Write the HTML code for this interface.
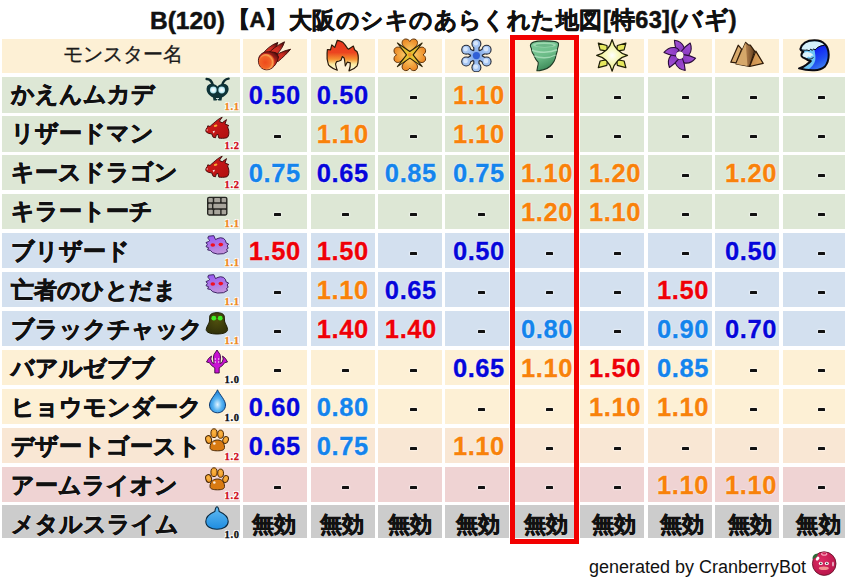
<!DOCTYPE html>
<html lang="ja"><head><meta charset="utf-8"><style>
html,body{margin:0;padding:0;background:#fff;}
body{width:849px;height:583px;position:relative;overflow:hidden;font-family:"Liberation Sans",sans-serif;}
.c{position:absolute;}
.t{position:absolute;white-space:nowrap;line-height:1;}
.nm{font-weight:bold;font-size:23px;color:#111;-webkit-text-stroke:0.7px #111;text-shadow:0 0 2px #fff,0 0 1px #fff;}
.v{font-weight:bold;font-size:25.5px;letter-spacing:0.6px;-webkit-text-stroke:0.35px currentColor;text-align:center;text-shadow:0 0 2px #fff,0 0 1px #fff;}
.mk{font-weight:bold;font-size:22px;letter-spacing:0.6px;text-align:center;color:#111;-webkit-text-stroke:0.6px #111;}
.lv{font-weight:bold;font-size:10.5px;letter-spacing:0.7px;font-family:"Liberation Serif",serif;-webkit-text-stroke:0.35px currentColor;text-shadow:1px 0 0 #fff,-1px 0 0 #fff,0 1px 0 #fff,0 -1px 0 #fff,1px 1px 0 #fff,-1px -1px 0 #fff,1px -1px 0 #fff,-1px 1px 0 #fff;}
.ic{position:absolute;}
svg{display:block;}
</style></head><body>

<div class="t" style="left:150px;top:9px;font-size:24.5px;font-weight:bold;color:#111;-webkit-text-stroke:0.5px #111;">B(120)</div>
<div class="t" style="left:227.5px;top:8.8px;font-size:22px;font-weight:bold;color:#111;-webkit-text-stroke:0.5px #111;">【A】</div>
<div class="t" style="left:289px;top:8.5px;font-size:23px;letter-spacing:0.43px;font-weight:bold;color:#111;-webkit-text-stroke:0.5px #111;">大阪のシキのあらくれた地図</div>
<div class="t" style="left:603px;top:8.5px;font-size:23.5px;letter-spacing:0.27px;font-weight:bold;color:#111;-webkit-text-stroke:0.5px #111;">[特63](バギ)</div>
<div class="c" style="left:2.00px;top:39.00px;width:237.70px;height:33.80px;background:#fdf0d5"></div>
<div class="t" style="left:4px;width:238px;top:44px;text-align:center;font-size:20px;color:#1a1a1a;-webkit-text-stroke:0.3px #1a1a1a">モンスター名</div>
<div class="c" style="left:243.10px;top:39.00px;width:64.03px;height:33.80px;background:#fdf0d5"></div>
<div class="ic" style="left:257.12px;top:38.00px"><svg width="36" height="34" viewBox="0 0 36 34"><defs><radialGradient id="mg" cx="0.4" cy="0.55" r="0.6"><stop offset="0" stop-color="#ee4a1c"/><stop offset="0.62" stop-color="#f26428"/><stop offset="0.8" stop-color="#f8a452"/><stop offset="0.92" stop-color="#e8602a"/><stop offset="1" stop-color="#d03a1c"/></radialGradient>
<linearGradient id="mf" x1="0.1" y1="0.9" x2="0.95" y2="0.05"><stop offset="0" stop-color="#dc3424"/><stop offset="0.55" stop-color="#cc2c22"/><stop offset="0.8" stop-color="#8a1a16"/><stop offset="1" stop-color="#2a0808"/></linearGradient></defs>
<g fill="url(#mf)" stroke="#3a0a08" stroke-width="0.9" stroke-linejoin="round">
<path d="M5 17 C8.5 11.5 14 7 20.8 4.4 C19.8 8.5 18 11.5 15.5 14.5Z"/>
<path d="M9.5 17 C14.5 11.5 20.5 7 27.5 3.8 C26.2 8.5 23.5 12.5 19.5 16.5Z"/>
<path d="M13.5 21 C19 16.5 26 12.8 33.6 11.2 C30 15.5 26 19.5 21 23.5Z"/>
<path d="M1.4 22.5 C1.4 17.5 5 14.5 9 14 C12 13.5 16 13.8 19.5 15 L21.5 19 C20 26 15.5 31.8 9.8 31.8 C4.8 31.8 1.4 28 1.4 22.5Z"/></g>
<circle cx="9.8" cy="23.6" r="7.9" fill="url(#mg)"/></svg></div>
<div class="c" style="left:310.53px;top:39.00px;width:64.03px;height:33.80px;background:#fdf0d5"></div>
<div class="ic" style="left:324.55px;top:38.00px"><svg width="36" height="34" viewBox="0 0 36 34"><defs><linearGradient id="fg" x1="0" y1="0" x2="0" y2="1"><stop offset="0" stop-color="#e8341e"/><stop offset="0.4" stop-color="#ec4420"/><stop offset="0.62" stop-color="#f49030"/><stop offset="0.78" stop-color="#faeaa0"/><stop offset="1" stop-color="#fffbe0"/></linearGradient></defs>
<path d="M12.3 32.2 C6 30 3 27 3.1 25.4 C2 22 1.8 20 2.1 18 C2 15 2.2 13 2.4 11.5 L5.5 11.8 L6.8 6.9 L9.8 9.4 L12.3 2.3 C15 3 17 3.5 17.9 4.4 C20 6.5 21 8 22.2 10 L23.4 11.2 L28.4 8.1 L29.6 11.8 L32.1 13.7 C33 16 33.5 18 33.3 19.9 C33.3 23 33 25.5 32.1 27.9 C30 30.5 27 32 24 32.8 C25 30 25.5 27 25.3 24.8 L22.2 24.2 L20.3 27.9 C20 25 19.8 22 19.1 19.9 L17.3 18.6 L16 22.3 L14.2 23 L11.7 23.6 L10.5 26 C11 28.5 11.5 30.5 12.3 32.2Z" fill="url(#fg)" stroke="#2a1a0a" stroke-width="1.2" stroke-linejoin="round"/></svg></div>
<div class="c" style="left:377.96px;top:39.00px;width:64.03px;height:33.80px;background:#fdf0d5"></div>
<div class="ic" style="left:391.98px;top:38.00px"><svg width="36" height="34" viewBox="0 0 36 34"><defs><radialGradient id="cg" cx="0.5" cy="0.7" r="0.7"><stop offset="0" stop-color="#f8c460"/><stop offset="1" stop-color="#ec8824"/></radialGradient></defs>
<g fill="url(#cg)" stroke="#5a3008" stroke-width="1"><g id="pt"><path d="M17.8 15 L11.2 7.8 C8.9 5 10.4 1 13.8 1 C15.8 1 17 2.2 17.8 3.5 C18.6 2.2 19.8 1 21.8 1 C25.2 1 26.7 5 24.4 7.8Z"/></g>
<use href="#pt" transform="rotate(90 17.8 16.8)"/><use href="#pt" transform="rotate(180 17.8 16.8)"/><use href="#pt" transform="rotate(270 17.8 16.8)"/></g>
<path d="M5.4 5 L17.8 13.5 L30.2 5 L21.1 16.8 L30.2 28.6 L17.8 20.1 L5.4 28.6 L14.5 16.8Z" fill="#e6c232" stroke="#2a2208" stroke-width="1.1" stroke-linejoin="round"/><circle cx="17.8" cy="16.8" r="2" fill="#f09a2c"/></svg></div>
<div class="c" style="left:445.39px;top:39.00px;width:64.03px;height:33.80px;background:#fdf0d5"></div>
<div class="ic" style="left:459.41px;top:38.00px"><svg width="36" height="34" viewBox="0 0 36 34"><g fill="#262a36" stroke="#262a36" stroke-width="6.4" stroke-linecap="round"><line x1="17.4" y1="17.6" x2="17.40" y2="5.80"/><line x1="17.4" y1="17.6" x2="27.62" y2="11.70"/><line x1="17.4" y1="17.6" x2="27.62" y2="23.50"/><line x1="17.4" y1="17.6" x2="17.40" y2="29.40"/><line x1="17.4" y1="17.6" x2="7.18" y2="23.50"/><line x1="17.4" y1="17.6" x2="7.18" y2="11.70"/></g><g fill="#262a36"><circle cx="17.40" cy="5.80" r="5.0"/><circle cx="27.62" cy="11.70" r="5.0"/><circle cx="27.62" cy="23.50" r="5.0"/><circle cx="17.40" cy="29.40" r="5.0"/><circle cx="7.18" cy="23.50" r="5.0"/><circle cx="7.18" cy="11.70" r="5.0"/><circle cx="17.4" cy="17.6" r="6.6"/></g><g fill="#94b8ee" stroke="#94b8ee" stroke-width="4" stroke-linecap="round"><line x1="17.4" y1="17.6" x2="17.40" y2="5.80"/><line x1="17.4" y1="17.6" x2="27.62" y2="11.70"/><line x1="17.4" y1="17.6" x2="27.62" y2="23.50"/><line x1="17.4" y1="17.6" x2="17.40" y2="29.40"/><line x1="17.4" y1="17.6" x2="7.18" y2="23.50"/><line x1="17.4" y1="17.6" x2="7.18" y2="11.70"/></g><g fill="#a4c4f2"><circle cx="17.40" cy="5.80" r="3.9"/><circle cx="27.62" cy="11.70" r="3.9"/><circle cx="27.62" cy="23.50" r="3.9"/><circle cx="17.40" cy="29.40" r="3.9"/><circle cx="7.18" cy="23.50" r="3.9"/><circle cx="7.18" cy="11.70" r="3.9"/></g><circle cx="17.4" cy="17.6" r="5.4" fill="#88aeea"/><g fill="#d6e6fc"><circle cx="16.80" cy="5.20" r="2.3"/><circle cx="27.02" cy="11.10" r="2.3"/><circle cx="27.02" cy="22.90" r="2.3"/><circle cx="16.80" cy="28.80" r="2.3"/><circle cx="6.58" cy="22.90" r="2.3"/><circle cx="6.58" cy="11.10" r="2.3"/></g><circle cx="17.4" cy="17.6" r="3.6" fill="#3060d6"/></svg></div>
<div class="c" style="left:512.82px;top:39.00px;width:64.03px;height:33.80px;background:#fdf0d5"></div>
<div class="ic" style="left:526.84px;top:38.00px"><svg width="36" height="34" viewBox="0 0 36 34"><defs><linearGradient id="tg" x1="0" y1="0" x2="0.4" y2="1"><stop offset="0" stop-color="#80cc9a"/><stop offset="0.6" stop-color="#6cbc88"/><stop offset="1" stop-color="#3e8c5a"/></linearGradient></defs>
<path d="M3.4 7.5 C3.5 3.5 10 2.9 16.7 2.9 C23 2.9 31.5 3 31.5 5.7 C31.8 8 30.5 10 30.3 11.8 C30.5 13.5 29.5 15 29.1 16.8 C28.8 19 28.5 21 27.2 23 C26 25.5 24.5 27 22.9 28.5 C20.5 30.5 18.5 31.3 16.7 31.6 C14 32.3 12 32.8 9.9 32.8 C10 31.5 10.5 30.5 10.5 29.1 C11 27.5 11.5 26 11.2 24.2 C10 22.5 8.5 21.5 8.1 19.9 C7.5 18.5 7 17.5 6.8 16.8 C5.8 15.5 5 14.5 5 13.7 C4.6 12.5 4.4 11.5 4.4 10.6 C3.8 9.5 3.4 8.5 3.4 7.5Z" fill="url(#tg)" stroke="#1e3a26" stroke-width="1.1" stroke-linejoin="round"/>
<ellipse cx="17.5" cy="7" rx="11.5" ry="2.6" fill="#9ed8b0"/><ellipse cx="17.5" cy="7.4" rx="9" ry="1.5" fill="#6cb888"/>
<path d="M5 12 C11 15 23 15 30 11.8" stroke="#a6dcb8" stroke-width="1.6" fill="none"/><path d="M7.5 18 C13 20.5 22 20.5 28.6 17" stroke="#a0d8b2" stroke-width="1.4" fill="none"/></svg></div>
<div class="c" style="left:580.25px;top:39.00px;width:64.03px;height:33.80px;background:#fdf0d5"></div>
<div class="ic" style="left:594.27px;top:38.00px"><svg width="36" height="34" viewBox="0 0 36 34"><defs><radialGradient id="sg2" cx="0.5" cy="0.5" r="0.5"><stop offset="0" stop-color="#ffffff"/><stop offset="0.3" stop-color="#fafad0"/><stop offset="1" stop-color="#eef07a"/></radialGradient></defs>
<g fill="#e6e85e" stroke="#1e1e08" stroke-width="1.2" stroke-linejoin="round"><path d="M4.3 5.1 L12.9 7.5 L13.5 13.1 L6.1 11.8Z"/><path d="M31.9 5.1 L23.3 7.5 L22.7 13.1 L30.1 11.8Z"/><path d="M4.3 29.7 L12.9 27.3 L13.5 21.7 L6.1 23Z"/><path d="M31.9 29.7 L23.3 27.3 L22.7 21.7 L30.1 23Z"/></g>
<path d="M18.1 1.7 Q21.2 14.3 33.5 17.4 Q21.2 20.5 18.1 33.1 Q15 20.5 2.7 17.4 Q15 14.3 18.1 1.7Z" fill="url(#sg2)" stroke="#1e1e08" stroke-width="1.3" stroke-linejoin="round"/></svg></div>
<div class="c" style="left:647.68px;top:39.00px;width:64.03px;height:33.80px;background:#fdf0d5"></div>
<div class="ic" style="left:661.70px;top:38.00px"><svg width="36" height="34" viewBox="0 0 36 34"><defs><linearGradient id="pw" x1="0" y1="0" x2="1" y2="1"><stop offset="0" stop-color="#a452d6"/><stop offset="1" stop-color="#8434bc"/></linearGradient></defs><g fill="url(#pw)" stroke="#2a0c3a" stroke-width="1.1" stroke-linejoin="round">
<g id="bl"><path d="M15.2 14.2 C13.6 10.5 12.6 6.5 12.4 2.2 C16.5 2.8 20.5 5.5 22 9 C22.8 11 22.6 12.8 21.8 14.2 C20 13.6 17.5 13.6 15.2 14.2Z"/></g>
<use href="#bl" transform="rotate(60 17.8 17.3)"/><use href="#bl" transform="rotate(120 17.8 17.3)"/><use href="#bl" transform="rotate(180 17.8 17.3)"/><use href="#bl" transform="rotate(240 17.8 17.3)"/><use href="#bl" transform="rotate(300 17.8 17.3)"/></g>
<circle cx="17.8" cy="17.3" r="3.7" fill="#fdf6e4"/></svg></div>
<div class="c" style="left:715.11px;top:39.00px;width:64.03px;height:33.80px;background:#fdf0d5"></div>
<div class="ic" style="left:729.12px;top:38.00px"><svg width="36" height="34" viewBox="0 0 36 34"><defs><linearGradient id="pg" x1="0" y1="0" x2="1" y2="0"><stop offset="0" stop-color="#a87440"/><stop offset="0.5" stop-color="#b88450"/><stop offset="1" stop-color="#5e3c1c"/></linearGradient><linearGradient id="pg2" x1="0" y1="0" x2="1" y2="0"><stop offset="0" stop-color="#c88c4c"/><stop offset="1" stop-color="#e0aa62"/></linearGradient></defs>
<g stroke="#2e1a08" stroke-width="1.2" stroke-linejoin="round"><path d="M1.8 24.2 L9.2 7.2 L12.6 11.2 L7.1 24.8Z" fill="#d8aa6c"/>
<path d="M7.1 26 L16.6 4.4 L19.4 6.9 L21.3 7.2 L25.6 13.1 L20.6 28.5Z" fill="url(#pg)"/><path d="M7.1 26 L16.6 4.4 L18.5 28Z" fill="#d6a86a" stroke="none"/>
<path d="M20.6 28.5 L26.8 13.1 L34.2 25.4Z" fill="url(#pg2)"/></g></svg></div>
<div class="c" style="left:782.54px;top:39.00px;width:62.76px;height:33.80px;background:#fdf0d5"></div>
<div class="ic" style="left:795.92px;top:38.00px"><svg width="36" height="34" viewBox="0 0 36 34"><defs><linearGradient id="wg" x1="0.3" y1="0" x2="0.8" y2="1"><stop offset="0" stop-color="#0a0cf4"/><stop offset="0.6" stop-color="#2050f0"/><stop offset="1" stop-color="#4a90f0"/></linearGradient></defs>
<path d="M4.3 11.2 C6 5 12 2.3 18.5 2.3 C23 2.3 27 4 29 6.3 C31.5 9 32.7 13 32.7 16.8 C32.7 22 31 26 29 28.5 C26 31 22 32.2 18.5 32.2 C12 32.5 7 31.5 3 30.4 C6 29.5 8.5 28.5 10.4 26.7 C12 25.5 13.5 24.5 14.8 23 C12.5 22.5 10.5 21.5 9.2 20.5 C7.5 20 6 19.5 5.5 18 C5.2 16 6.2 14.5 7.4 13.7 C5.8 13 4.5 12.5 4.3 11.2Z" fill="#6cc4f4"/>
<path d="M18.5 9.5 C22 6 27.5 5.5 30 8.5 C32.3 12 32.7 16 32.5 19.5 C32 24.5 29.5 28.5 25.5 30.5 C21.5 32.3 16 32.5 11.5 32 C15.5 29.5 18.2 26.5 19.2 22.5 C20.2 18 18.3 13 18.5 9.5Z" fill="url(#wg)"/>
<path d="M5.2 11 C7 5.5 12 3.3 18.5 3.3 C23 3.3 26.5 4.5 28.5 7 C25 7.2 22.5 8.2 20.5 10.2 L19 11.6 L17.6 10.4 L16.3 12 L14.7 10.8 L13.2 12.5 L11 11.8 C8.8 12.2 6.6 12 5.2 11Z" fill="#d6f0fb"/>
<path d="M6 17.5 C6.5 15 9.5 13.8 12.5 14.2 C15 14.6 16.8 15.8 17.5 17.6 L15.5 17.8 L14.2 19.4 L12.6 18.4 L11 19.8 C8.6 20 6.5 19.3 6 17.5Z" fill="#dcf2fc"/><path d="M10.5 20.5 C13 21.5 15 21.5 17.5 19.5" stroke="#0a0a12" stroke-width="0.9" fill="none"/>
<path d="M5.2 11.5 C7 12.3 9 12.4 11 12 L13.2 12.8 L14.7 11.2 L16.3 12.4 L17.6 10.9 L19 12 L20.5 10.5 C22.5 8.6 25 7.6 28.5 7.3" stroke="#0a0a12" stroke-width="1" fill="none" stroke-linejoin="round"/>
<path d="M4.3 11.2 C6 5 12 2.3 18.5 2.3 C23 2.3 27 4 29 6.3 C31.5 9 32.7 13 32.7 16.8 C32.7 22 31 26 29 28.5 C26 31 22 32.2 18.5 32.2 C12 32.5 7 31.5 3 30.4 C6 29.5 8.5 28.5 10.4 26.7 C12 25.5 13.5 24.5 14.8 23 C12.5 22.5 10.5 21.5 9.2 20.5 C7.5 20 6 19.5 5.5 18 C5.2 16 6.2 14.5 7.4 13.7 C5.8 13 4.5 12.5 4.3 11.2Z" fill="none" stroke="#0a0a12" stroke-width="2" stroke-linejoin="round"/></svg></div>
<div class="c" style="left:2.00px;top:77.46px;width:237.70px;height:35.20px;background:#dde7d5"></div>
<div class="t nm" style="left:11px;top:83.46px">かえんムカデ</div>
<div class="ic" style="left:204px;top:76.96px"><svg width="26" height="26" viewBox="0 0 26 26"><defs><radialGradient id="eg0" cx="0.5" cy="0.5" r="0.5"><stop offset="0" stop-color="#ffffff"/><stop offset="0.6" stop-color="#d8f4fa"/><stop offset="1" stop-color="#9ad8e4"/></radialGradient></defs>
<g stroke="#0c2a2e" stroke-linecap="round" fill="none" stroke-width="2.4"><path d="M9 8.5 C8 4.5 5.5 2 2.6 2"/><path d="M18 8.5 C19 4.5 21.5 1.8 24.6 1.6"/></g>
<path d="M13.5 9.5 C10 5.5 3 5.8 2.6 11.5 C2.3 15.5 5 18.5 9 20.5 L9.5 23.6 L12.6 23.6 L13.5 22 L14.4 23.6 L17.5 23.6 L18 20.5 C22 18.5 24.8 15.5 24.6 11.5 C24.2 5.8 17 5.5 13.5 9.5Z" fill="#0e3338"/>
<circle cx="9.3" cy="13" r="3.4" fill="url(#eg0)"/><circle cx="17.7" cy="13" r="3.4" fill="url(#eg0)"/><path d="M12 21.5 L15 21.5" stroke="#c8d8d8" stroke-width="1"/></svg></div>
<div class="t lv" style="left:224.6px;top:102.21px;color:#ee8a1e">1.1</div>
<div class="c" style="left:243.10px;top:77.46px;width:64.03px;height:35.20px;background:#dde7d5"></div>
<div class="t v" style="left:234.78px;width:80px;top:83.06px;color:#0606da">0.50</div>
<div class="c" style="left:310.53px;top:77.46px;width:64.03px;height:35.20px;background:#dde7d5"></div>
<div class="t v" style="left:302.82px;width:80px;top:83.06px;color:#0606da">0.50</div>
<div class="c" style="left:377.96px;top:77.46px;width:64.03px;height:35.20px;background:#dde7d5"></div>
<div class="c" style="left:409.68px;top:96.06px;width:7px;height:2.7px;background:#111;border-radius:0.6px;box-shadow:0 0 1.5px 0.8px rgba(255,255,255,0.55)"></div>
<div class="c" style="left:445.39px;top:77.46px;width:64.03px;height:35.20px;background:#dde7d5"></div>
<div class="t v" style="left:438.90px;width:80px;top:83.06px;color:#f8820a">1.10</div>
<div class="c" style="left:512.82px;top:77.46px;width:64.03px;height:35.20px;background:#dde7d5"></div>
<div class="c" style="left:545.76px;top:96.06px;width:7px;height:2.7px;background:#111;border-radius:0.6px;box-shadow:0 0 1.5px 0.8px rgba(255,255,255,0.55)"></div>
<div class="c" style="left:580.25px;top:77.46px;width:64.03px;height:35.20px;background:#dde7d5"></div>
<div class="c" style="left:613.80px;top:96.06px;width:7px;height:2.7px;background:#111;border-radius:0.6px;box-shadow:0 0 1.5px 0.8px rgba(255,255,255,0.55)"></div>
<div class="c" style="left:647.68px;top:77.46px;width:64.03px;height:35.20px;background:#dde7d5"></div>
<div class="c" style="left:681.84px;top:96.06px;width:7px;height:2.7px;background:#111;border-radius:0.6px;box-shadow:0 0 1.5px 0.8px rgba(255,255,255,0.55)"></div>
<div class="c" style="left:715.11px;top:77.46px;width:64.03px;height:35.20px;background:#dde7d5"></div>
<div class="c" style="left:749.88px;top:96.06px;width:7px;height:2.7px;background:#111;border-radius:0.6px;box-shadow:0 0 1.5px 0.8px rgba(255,255,255,0.55)"></div>
<div class="c" style="left:782.54px;top:77.46px;width:62.76px;height:35.20px;background:#dde7d5"></div>
<div class="c" style="left:817.92px;top:96.06px;width:7px;height:2.7px;background:#111;border-radius:0.6px;box-shadow:0 0 1.5px 0.8px rgba(255,255,255,0.55)"></div>
<div class="c" style="left:2.00px;top:116.37px;width:237.70px;height:35.20px;background:#dde7d5"></div>
<div class="t nm" style="left:11px;top:122.47px">リザードマン</div>
<div class="ic" style="left:204px;top:115.87px"><svg width="26" height="26" viewBox="0 0 26 26"><defs><linearGradient id="drg1" x1="0" y1="0" x2="1" y2="1"><stop offset="0" stop-color="#d41c1c"/><stop offset="1" stop-color="#b01010"/></linearGradient></defs><path d="M3.3 11.6 L3.8 9.8 L6 10.5 C7 9.5 8 8.5 9.1 7.7 C12 5 15 2.5 18.2 1.2 L15.3 5.3 L18.2 6.8 L22.5 3.6 L21 8 L24.9 9.6 L23.5 10.8 C24.5 13 25 15 24.9 17.3 C24.8 19.5 24 21 23 21.7 C20 22.5 17 22.5 14.8 22.1 L13.9 18.3 L12.2 19.2 L11.5 21.8 L9.1 21.2 L7.6 17.8 C5.5 17.8 3.5 17.3 1.8 15.4 C1.8 13.5 2.3 12.3 3.3 11.6Z" fill="url(#drg1)" stroke="#3a0606" stroke-width="0.9" stroke-linejoin="round"/>
<ellipse cx="11.6" cy="9.8" rx="1.8" ry="1.1" fill="#f8a830" transform="rotate(-15 11.6 9.8)"/><path d="M8.6 15.2 L11 14.8 L9.8 17.5Z" fill="#f6e0e0"/><circle cx="3.2" cy="14" r="0.8" fill="#f0b0b0"/></svg></div>
<div class="t lv" style="left:224.6px;top:141.12px;color:#d0101c">1.2</div>
<div class="c" style="left:243.10px;top:116.37px;width:64.03px;height:35.20px;background:#dde7d5"></div>
<div class="c" style="left:273.60px;top:135.07px;width:7px;height:2.7px;background:#111;border-radius:0.6px;box-shadow:0 0 1.5px 0.8px rgba(255,255,255,0.55)"></div>
<div class="c" style="left:310.53px;top:116.37px;width:64.03px;height:35.20px;background:#dde7d5"></div>
<div class="t v" style="left:302.82px;width:80px;top:122.07px;color:#f8820a">1.10</div>
<div class="c" style="left:377.96px;top:116.37px;width:64.03px;height:35.20px;background:#dde7d5"></div>
<div class="c" style="left:409.68px;top:135.07px;width:7px;height:2.7px;background:#111;border-radius:0.6px;box-shadow:0 0 1.5px 0.8px rgba(255,255,255,0.55)"></div>
<div class="c" style="left:445.39px;top:116.37px;width:64.03px;height:35.20px;background:#dde7d5"></div>
<div class="t v" style="left:438.90px;width:80px;top:122.07px;color:#f8820a">1.10</div>
<div class="c" style="left:512.82px;top:116.37px;width:64.03px;height:35.20px;background:#dde7d5"></div>
<div class="c" style="left:545.76px;top:135.07px;width:7px;height:2.7px;background:#111;border-radius:0.6px;box-shadow:0 0 1.5px 0.8px rgba(255,255,255,0.55)"></div>
<div class="c" style="left:580.25px;top:116.37px;width:64.03px;height:35.20px;background:#dde7d5"></div>
<div class="c" style="left:613.80px;top:135.07px;width:7px;height:2.7px;background:#111;border-radius:0.6px;box-shadow:0 0 1.5px 0.8px rgba(255,255,255,0.55)"></div>
<div class="c" style="left:647.68px;top:116.37px;width:64.03px;height:35.20px;background:#dde7d5"></div>
<div class="c" style="left:681.84px;top:135.07px;width:7px;height:2.7px;background:#111;border-radius:0.6px;box-shadow:0 0 1.5px 0.8px rgba(255,255,255,0.55)"></div>
<div class="c" style="left:715.11px;top:116.37px;width:64.03px;height:35.20px;background:#dde7d5"></div>
<div class="c" style="left:749.88px;top:135.07px;width:7px;height:2.7px;background:#111;border-radius:0.6px;box-shadow:0 0 1.5px 0.8px rgba(255,255,255,0.55)"></div>
<div class="c" style="left:782.54px;top:116.37px;width:62.76px;height:35.20px;background:#dde7d5"></div>
<div class="c" style="left:817.92px;top:135.07px;width:7px;height:2.7px;background:#111;border-radius:0.6px;box-shadow:0 0 1.5px 0.8px rgba(255,255,255,0.55)"></div>
<div class="c" style="left:2.00px;top:155.28px;width:237.70px;height:35.20px;background:#dde7d5"></div>
<div class="t nm" style="left:11px;top:161.48px">キースドラゴン</div>
<div class="ic" style="left:204px;top:154.78px"><svg width="26" height="26" viewBox="0 0 26 26"><defs><linearGradient id="drg2" x1="0" y1="0" x2="1" y2="1"><stop offset="0" stop-color="#d41c1c"/><stop offset="1" stop-color="#b01010"/></linearGradient></defs><path d="M3.3 11.6 L3.8 9.8 L6 10.5 C7 9.5 8 8.5 9.1 7.7 C12 5 15 2.5 18.2 1.2 L15.3 5.3 L18.2 6.8 L22.5 3.6 L21 8 L24.9 9.6 L23.5 10.8 C24.5 13 25 15 24.9 17.3 C24.8 19.5 24 21 23 21.7 C20 22.5 17 22.5 14.8 22.1 L13.9 18.3 L12.2 19.2 L11.5 21.8 L9.1 21.2 L7.6 17.8 C5.5 17.8 3.5 17.3 1.8 15.4 C1.8 13.5 2.3 12.3 3.3 11.6Z" fill="url(#drg2)" stroke="#3a0606" stroke-width="0.9" stroke-linejoin="round"/>
<ellipse cx="11.6" cy="9.8" rx="1.8" ry="1.1" fill="#f8a830" transform="rotate(-15 11.6 9.8)"/><path d="M8.6 15.2 L11 14.8 L9.8 17.5Z" fill="#f6e0e0"/><circle cx="3.2" cy="14" r="0.8" fill="#f0b0b0"/></svg></div>
<div class="t lv" style="left:224.6px;top:180.03px;color:#d0101c">1.2</div>
<div class="c" style="left:243.10px;top:155.28px;width:64.03px;height:35.20px;background:#dde7d5"></div>
<div class="t v" style="left:234.78px;width:80px;top:161.08px;color:#1484ec">0.75</div>
<div class="c" style="left:310.53px;top:155.28px;width:64.03px;height:35.20px;background:#dde7d5"></div>
<div class="t v" style="left:302.82px;width:80px;top:161.08px;color:#0606da">0.65</div>
<div class="c" style="left:377.96px;top:155.28px;width:64.03px;height:35.20px;background:#dde7d5"></div>
<div class="t v" style="left:370.86px;width:80px;top:161.08px;color:#1484ec">0.85</div>
<div class="c" style="left:445.39px;top:155.28px;width:64.03px;height:35.20px;background:#dde7d5"></div>
<div class="t v" style="left:438.90px;width:80px;top:161.08px;color:#1484ec">0.75</div>
<div class="c" style="left:512.82px;top:155.28px;width:64.03px;height:35.20px;background:#dde7d5"></div>
<div class="t v" style="left:506.94px;width:80px;top:161.08px;color:#f8820a">1.10</div>
<div class="c" style="left:580.25px;top:155.28px;width:64.03px;height:35.20px;background:#dde7d5"></div>
<div class="t v" style="left:574.98px;width:80px;top:161.08px;color:#f8820a">1.20</div>
<div class="c" style="left:647.68px;top:155.28px;width:64.03px;height:35.20px;background:#dde7d5"></div>
<div class="c" style="left:681.84px;top:174.08px;width:7px;height:2.7px;background:#111;border-radius:0.6px;box-shadow:0 0 1.5px 0.8px rgba(255,255,255,0.55)"></div>
<div class="c" style="left:715.11px;top:155.28px;width:64.03px;height:35.20px;background:#dde7d5"></div>
<div class="t v" style="left:711.06px;width:80px;top:161.08px;color:#f8820a">1.20</div>
<div class="c" style="left:782.54px;top:155.28px;width:62.76px;height:35.20px;background:#dde7d5"></div>
<div class="c" style="left:817.92px;top:174.08px;width:7px;height:2.7px;background:#111;border-radius:0.6px;box-shadow:0 0 1.5px 0.8px rgba(255,255,255,0.55)"></div>
<div class="c" style="left:2.00px;top:194.19px;width:237.70px;height:35.20px;background:#dde7d5"></div>
<div class="t nm" style="left:11px;top:200.49px">キラートーチ</div>
<div class="ic" style="left:204px;top:193.69px"><svg width="26" height="26" viewBox="0 0 26 26"><g transform="translate(0 -0.4) scale(1 0.95)"><rect x="3" y="3.2" width="20.5" height="20" rx="2.2" fill="#262622"/>
<g fill="#a8a59c"><rect x="4.4" y="4.6" width="4.4" height="4.6" rx="0.9"/><rect x="10.2" y="4.6" width="6" height="4.6" rx="0.9"/><rect x="17.6" y="4.6" width="4.5" height="4.6" rx="0.9"/>
<rect x="4.4" y="10.8" width="3.6" height="4.6" rx="0.9"/><rect x="9.4" y="10.8" width="12.7" height="4.6" rx="0.9"/>
<rect x="4.4" y="17" width="4.4" height="4.8" rx="0.9"/><rect x="10.2" y="17" width="6" height="4.8" rx="0.9"/><rect x="17.6" y="17" width="4.5" height="4.8" rx="0.9"/></g></g></svg></div>
<div class="t lv" style="left:224.6px;top:218.94px;color:#ee8a1e">1.1</div>
<div class="c" style="left:243.10px;top:194.19px;width:64.03px;height:35.20px;background:#dde7d5"></div>
<div class="c" style="left:273.60px;top:213.09px;width:7px;height:2.7px;background:#111;border-radius:0.6px;box-shadow:0 0 1.5px 0.8px rgba(255,255,255,0.55)"></div>
<div class="c" style="left:310.53px;top:194.19px;width:64.03px;height:35.20px;background:#dde7d5"></div>
<div class="c" style="left:341.64px;top:213.09px;width:7px;height:2.7px;background:#111;border-radius:0.6px;box-shadow:0 0 1.5px 0.8px rgba(255,255,255,0.55)"></div>
<div class="c" style="left:377.96px;top:194.19px;width:64.03px;height:35.20px;background:#dde7d5"></div>
<div class="c" style="left:409.68px;top:213.09px;width:7px;height:2.7px;background:#111;border-radius:0.6px;box-shadow:0 0 1.5px 0.8px rgba(255,255,255,0.55)"></div>
<div class="c" style="left:445.39px;top:194.19px;width:64.03px;height:35.20px;background:#dde7d5"></div>
<div class="c" style="left:477.72px;top:213.09px;width:7px;height:2.7px;background:#111;border-radius:0.6px;box-shadow:0 0 1.5px 0.8px rgba(255,255,255,0.55)"></div>
<div class="c" style="left:512.82px;top:194.19px;width:64.03px;height:35.20px;background:#dde7d5"></div>
<div class="t v" style="left:506.94px;width:80px;top:200.09px;color:#f8820a">1.20</div>
<div class="c" style="left:580.25px;top:194.19px;width:64.03px;height:35.20px;background:#dde7d5"></div>
<div class="t v" style="left:574.98px;width:80px;top:200.09px;color:#f8820a">1.10</div>
<div class="c" style="left:647.68px;top:194.19px;width:64.03px;height:35.20px;background:#dde7d5"></div>
<div class="c" style="left:681.84px;top:213.09px;width:7px;height:2.7px;background:#111;border-radius:0.6px;box-shadow:0 0 1.5px 0.8px rgba(255,255,255,0.55)"></div>
<div class="c" style="left:715.11px;top:194.19px;width:64.03px;height:35.20px;background:#dde7d5"></div>
<div class="c" style="left:749.88px;top:213.09px;width:7px;height:2.7px;background:#111;border-radius:0.6px;box-shadow:0 0 1.5px 0.8px rgba(255,255,255,0.55)"></div>
<div class="c" style="left:782.54px;top:194.19px;width:62.76px;height:35.20px;background:#dde7d5"></div>
<div class="c" style="left:817.92px;top:213.09px;width:7px;height:2.7px;background:#111;border-radius:0.6px;box-shadow:0 0 1.5px 0.8px rgba(255,255,255,0.55)"></div>
<div class="c" style="left:2.00px;top:233.10px;width:237.70px;height:35.20px;background:#d3e0ef"></div>
<div class="t nm" style="left:11px;top:239.50px">ブリザード</div>
<div class="ic" style="left:204px;top:232.60px"><svg width="26" height="26" viewBox="0 0 26 26"><defs><linearGradient id="gg4" x1="0" y1="0" x2="0.3" y2="1"><stop offset="0" stop-color="#9454f4"/><stop offset="1" stop-color="#c090dc"/></linearGradient></defs>
<path transform="translate(0 0.2) scale(1 0.94)" d="M4.5 3.2 L9.8 2.6 L11.5 6.8 L14 5.5 L16.5 4.8 L19.5 5.5 L21.5 7.8 L22 10.2 L24.6 11.5 L23.2 13.6 L24.2 16 L22.6 17.2 L23.5 19.5 L19.5 21.8 L13.5 22.2 L8.8 20.8 L6.3 18.3 L3.6 17.8 L4.6 15.5 L2 14.3 L3.4 12 L2 10 L4.6 8.8 L5.8 7.6 L3.8 5.5Z" fill="url(#gg4)" stroke="#3a2060" stroke-width="1" stroke-linejoin="round"/>
<ellipse cx="8.8" cy="12" rx="2.3" ry="1.7" fill="#f01020"/><ellipse cx="16.8" cy="11.6" rx="2.3" ry="1.8" fill="#f01020"/></svg></div>
<div class="t lv" style="left:224.6px;top:257.85px;color:#ee8a1e">1.1</div>
<div class="c" style="left:243.10px;top:233.10px;width:64.03px;height:35.20px;background:#d3e0ef"></div>
<div class="t v" style="left:234.78px;width:80px;top:239.10px;color:#ee0008">1.50</div>
<div class="c" style="left:310.53px;top:233.10px;width:64.03px;height:35.20px;background:#d3e0ef"></div>
<div class="t v" style="left:302.82px;width:80px;top:239.10px;color:#ee0008">1.50</div>
<div class="c" style="left:377.96px;top:233.10px;width:64.03px;height:35.20px;background:#d3e0ef"></div>
<div class="c" style="left:409.68px;top:252.10px;width:7px;height:2.7px;background:#111;border-radius:0.6px;box-shadow:0 0 1.5px 0.8px rgba(255,255,255,0.55)"></div>
<div class="c" style="left:445.39px;top:233.10px;width:64.03px;height:35.20px;background:#d3e0ef"></div>
<div class="t v" style="left:438.90px;width:80px;top:239.10px;color:#0606da">0.50</div>
<div class="c" style="left:512.82px;top:233.10px;width:64.03px;height:35.20px;background:#d3e0ef"></div>
<div class="c" style="left:545.76px;top:252.10px;width:7px;height:2.7px;background:#111;border-radius:0.6px;box-shadow:0 0 1.5px 0.8px rgba(255,255,255,0.55)"></div>
<div class="c" style="left:580.25px;top:233.10px;width:64.03px;height:35.20px;background:#d3e0ef"></div>
<div class="c" style="left:613.80px;top:252.10px;width:7px;height:2.7px;background:#111;border-radius:0.6px;box-shadow:0 0 1.5px 0.8px rgba(255,255,255,0.55)"></div>
<div class="c" style="left:647.68px;top:233.10px;width:64.03px;height:35.20px;background:#d3e0ef"></div>
<div class="c" style="left:681.84px;top:252.10px;width:7px;height:2.7px;background:#111;border-radius:0.6px;box-shadow:0 0 1.5px 0.8px rgba(255,255,255,0.55)"></div>
<div class="c" style="left:715.11px;top:233.10px;width:64.03px;height:35.20px;background:#d3e0ef"></div>
<div class="t v" style="left:711.06px;width:80px;top:239.10px;color:#0606da">0.50</div>
<div class="c" style="left:782.54px;top:233.10px;width:62.76px;height:35.20px;background:#d3e0ef"></div>
<div class="c" style="left:817.92px;top:252.10px;width:7px;height:2.7px;background:#111;border-radius:0.6px;box-shadow:0 0 1.5px 0.8px rgba(255,255,255,0.55)"></div>
<div class="c" style="left:2.00px;top:272.01px;width:237.70px;height:35.20px;background:#d3e0ef"></div>
<div class="t nm" style="left:11px;top:278.51px">亡者のひとだま</div>
<div class="ic" style="left:204px;top:271.51px"><svg width="26" height="26" viewBox="0 0 26 26"><defs><linearGradient id="gg5" x1="0" y1="0" x2="0.3" y2="1"><stop offset="0" stop-color="#9454f4"/><stop offset="1" stop-color="#c090dc"/></linearGradient></defs>
<path transform="translate(0 0.2) scale(1 0.94)" d="M4.5 3.2 L9.8 2.6 L11.5 6.8 L14 5.5 L16.5 4.8 L19.5 5.5 L21.5 7.8 L22 10.2 L24.6 11.5 L23.2 13.6 L24.2 16 L22.6 17.2 L23.5 19.5 L19.5 21.8 L13.5 22.2 L8.8 20.8 L6.3 18.3 L3.6 17.8 L4.6 15.5 L2 14.3 L3.4 12 L2 10 L4.6 8.8 L5.8 7.6 L3.8 5.5Z" fill="url(#gg5)" stroke="#3a2060" stroke-width="1" stroke-linejoin="round"/>
<ellipse cx="8.8" cy="12" rx="2.3" ry="1.7" fill="#f01020"/><ellipse cx="16.8" cy="11.6" rx="2.3" ry="1.8" fill="#f01020"/></svg></div>
<div class="t lv" style="left:224.6px;top:296.76px;color:#ee8a1e">1.1</div>
<div class="c" style="left:243.10px;top:272.01px;width:64.03px;height:35.20px;background:#d3e0ef"></div>
<div class="c" style="left:273.60px;top:291.11px;width:7px;height:2.7px;background:#111;border-radius:0.6px;box-shadow:0 0 1.5px 0.8px rgba(255,255,255,0.55)"></div>
<div class="c" style="left:310.53px;top:272.01px;width:64.03px;height:35.20px;background:#d3e0ef"></div>
<div class="t v" style="left:302.82px;width:80px;top:278.11px;color:#f8820a">1.10</div>
<div class="c" style="left:377.96px;top:272.01px;width:64.03px;height:35.20px;background:#d3e0ef"></div>
<div class="t v" style="left:370.86px;width:80px;top:278.11px;color:#0606da">0.65</div>
<div class="c" style="left:445.39px;top:272.01px;width:64.03px;height:35.20px;background:#d3e0ef"></div>
<div class="c" style="left:477.72px;top:291.11px;width:7px;height:2.7px;background:#111;border-radius:0.6px;box-shadow:0 0 1.5px 0.8px rgba(255,255,255,0.55)"></div>
<div class="c" style="left:512.82px;top:272.01px;width:64.03px;height:35.20px;background:#d3e0ef"></div>
<div class="c" style="left:545.76px;top:291.11px;width:7px;height:2.7px;background:#111;border-radius:0.6px;box-shadow:0 0 1.5px 0.8px rgba(255,255,255,0.55)"></div>
<div class="c" style="left:580.25px;top:272.01px;width:64.03px;height:35.20px;background:#d3e0ef"></div>
<div class="c" style="left:613.80px;top:291.11px;width:7px;height:2.7px;background:#111;border-radius:0.6px;box-shadow:0 0 1.5px 0.8px rgba(255,255,255,0.55)"></div>
<div class="c" style="left:647.68px;top:272.01px;width:64.03px;height:35.20px;background:#d3e0ef"></div>
<div class="t v" style="left:643.02px;width:80px;top:278.11px;color:#ee0008">1.50</div>
<div class="c" style="left:715.11px;top:272.01px;width:64.03px;height:35.20px;background:#d3e0ef"></div>
<div class="c" style="left:749.88px;top:291.11px;width:7px;height:2.7px;background:#111;border-radius:0.6px;box-shadow:0 0 1.5px 0.8px rgba(255,255,255,0.55)"></div>
<div class="c" style="left:782.54px;top:272.01px;width:62.76px;height:35.20px;background:#d3e0ef"></div>
<div class="c" style="left:817.92px;top:291.11px;width:7px;height:2.7px;background:#111;border-radius:0.6px;box-shadow:0 0 1.5px 0.8px rgba(255,255,255,0.55)"></div>
<div class="c" style="left:2.00px;top:310.92px;width:237.70px;height:35.20px;background:#d3e0ef"></div>
<div class="t nm" style="left:11px;top:317.52px">ブラックチャック</div>
<div class="ic" style="left:204px;top:310.42px"><svg width="26" height="26" viewBox="0 0 26 26"><defs><radialGradient id="jg6" cx="0.5" cy="0.35" r="0.6"><stop offset="0" stop-color="#50500e"/><stop offset="1" stop-color="#34340a"/></radialGradient></defs><path d="M5.8 6 C6.5 1.5 19.5 1.5 20.2 6 L20.5 11 C21 14 23.3 16 23.6 19.5 C23.6 22.5 19 24 13 24 C7 24 2 22.5 2.2 19.5 C2.6 16 5.2 14 5.5 11Z" fill="url(#jg6)" stroke="#1e1e04" stroke-width="1"/>
<circle cx="9.8" cy="8.2" r="2.4" fill="#40ec24"/><circle cx="16.2" cy="8.2" r="2.4" fill="#40ec24"/></svg></div>
<div class="t lv" style="left:224.6px;top:335.67px;color:#ee8a1e">1.1</div>
<div class="c" style="left:243.10px;top:310.92px;width:64.03px;height:35.20px;background:#d3e0ef"></div>
<div class="c" style="left:273.60px;top:330.12px;width:7px;height:2.7px;background:#111;border-radius:0.6px;box-shadow:0 0 1.5px 0.8px rgba(255,255,255,0.55)"></div>
<div class="c" style="left:310.53px;top:310.92px;width:64.03px;height:35.20px;background:#d3e0ef"></div>
<div class="t v" style="left:302.82px;width:80px;top:317.12px;color:#ee0008">1.40</div>
<div class="c" style="left:377.96px;top:310.92px;width:64.03px;height:35.20px;background:#d3e0ef"></div>
<div class="t v" style="left:370.86px;width:80px;top:317.12px;color:#ee0008">1.40</div>
<div class="c" style="left:445.39px;top:310.92px;width:64.03px;height:35.20px;background:#d3e0ef"></div>
<div class="c" style="left:477.72px;top:330.12px;width:7px;height:2.7px;background:#111;border-radius:0.6px;box-shadow:0 0 1.5px 0.8px rgba(255,255,255,0.55)"></div>
<div class="c" style="left:512.82px;top:310.92px;width:64.03px;height:35.20px;background:#d3e0ef"></div>
<div class="t v" style="left:506.94px;width:80px;top:317.12px;color:#1484ec">0.80</div>
<div class="c" style="left:580.25px;top:310.92px;width:64.03px;height:35.20px;background:#d3e0ef"></div>
<div class="c" style="left:613.80px;top:330.12px;width:7px;height:2.7px;background:#111;border-radius:0.6px;box-shadow:0 0 1.5px 0.8px rgba(255,255,255,0.55)"></div>
<div class="c" style="left:647.68px;top:310.92px;width:64.03px;height:35.20px;background:#d3e0ef"></div>
<div class="t v" style="left:643.02px;width:80px;top:317.12px;color:#1484ec">0.90</div>
<div class="c" style="left:715.11px;top:310.92px;width:64.03px;height:35.20px;background:#d3e0ef"></div>
<div class="t v" style="left:711.06px;width:80px;top:317.12px;color:#0606da">0.70</div>
<div class="c" style="left:782.54px;top:310.92px;width:62.76px;height:35.20px;background:#d3e0ef"></div>
<div class="c" style="left:817.92px;top:330.12px;width:7px;height:2.7px;background:#111;border-radius:0.6px;box-shadow:0 0 1.5px 0.8px rgba(255,255,255,0.55)"></div>
<div class="c" style="left:2.00px;top:349.83px;width:237.70px;height:35.20px;background:#fdf0d5"></div>
<div class="t nm" style="left:11px;top:356.53px">バアルゼブブ</div>
<div class="ic" style="left:204px;top:349.33px"><svg width="26" height="26" viewBox="0 0 26 26"><path d="M13 1 L16 5.5 L16.5 8 L16 14.5 L18 13.5 L19.2 10 L18.5 7 L21.5 9.5 L23.5 13 L20.5 13.8 L18.5 16.5 L15.2 18.8 L15.2 24 L10.8 24 L10.8 18.8 L7.5 16.5 L5.5 13.8 L2.5 13 L4.5 9.5 L7.5 7 L6.8 10 L8 13.5 L10 14.5 L9.5 8 L10 5.5Z" fill="#c812d2" stroke="#3a0640" stroke-width="0.9" stroke-linejoin="round"/>
<g fill="#f4e8f4"><circle cx="11.3" cy="10" r="0.75"/><circle cx="11.3" cy="13" r="0.75"/><circle cx="14.7" cy="10" r="0.75"/><circle cx="14.7" cy="13" r="0.75"/></g></svg></div>
<div class="t lv" style="left:224.6px;top:374.58px;color:#111">1.0</div>
<div class="c" style="left:243.10px;top:349.83px;width:64.03px;height:35.20px;background:#fdf0d5"></div>
<div class="c" style="left:273.60px;top:369.13px;width:7px;height:2.7px;background:#111;border-radius:0.6px;box-shadow:0 0 1.5px 0.8px rgba(255,255,255,0.55)"></div>
<div class="c" style="left:310.53px;top:349.83px;width:64.03px;height:35.20px;background:#fdf0d5"></div>
<div class="c" style="left:341.64px;top:369.13px;width:7px;height:2.7px;background:#111;border-radius:0.6px;box-shadow:0 0 1.5px 0.8px rgba(255,255,255,0.55)"></div>
<div class="c" style="left:377.96px;top:349.83px;width:64.03px;height:35.20px;background:#fdf0d5"></div>
<div class="c" style="left:409.68px;top:369.13px;width:7px;height:2.7px;background:#111;border-radius:0.6px;box-shadow:0 0 1.5px 0.8px rgba(255,255,255,0.55)"></div>
<div class="c" style="left:445.39px;top:349.83px;width:64.03px;height:35.20px;background:#fdf0d5"></div>
<div class="t v" style="left:438.90px;width:80px;top:356.13px;color:#0606da">0.65</div>
<div class="c" style="left:512.82px;top:349.83px;width:64.03px;height:35.20px;background:#fdf0d5"></div>
<div class="t v" style="left:506.94px;width:80px;top:356.13px;color:#f8820a">1.10</div>
<div class="c" style="left:580.25px;top:349.83px;width:64.03px;height:35.20px;background:#fdf0d5"></div>
<div class="t v" style="left:574.98px;width:80px;top:356.13px;color:#ee0008">1.50</div>
<div class="c" style="left:647.68px;top:349.83px;width:64.03px;height:35.20px;background:#fdf0d5"></div>
<div class="t v" style="left:643.02px;width:80px;top:356.13px;color:#1484ec">0.85</div>
<div class="c" style="left:715.11px;top:349.83px;width:64.03px;height:35.20px;background:#fdf0d5"></div>
<div class="c" style="left:749.88px;top:369.13px;width:7px;height:2.7px;background:#111;border-radius:0.6px;box-shadow:0 0 1.5px 0.8px rgba(255,255,255,0.55)"></div>
<div class="c" style="left:782.54px;top:349.83px;width:62.76px;height:35.20px;background:#fdf0d5"></div>
<div class="c" style="left:817.92px;top:369.13px;width:7px;height:2.7px;background:#111;border-radius:0.6px;box-shadow:0 0 1.5px 0.8px rgba(255,255,255,0.55)"></div>
<div class="c" style="left:2.00px;top:388.74px;width:237.70px;height:35.20px;background:#fdf0d5"></div>
<div class="t nm" style="left:11px;top:395.54px">ヒョウモンダーク</div>
<div class="ic" style="left:204px;top:388.24px"><svg width="26" height="26" viewBox="0 0 26 26"><defs><radialGradient id="dg8" cx="0.5" cy="0.64" r="0.5"><stop offset="0" stop-color="#e2f4ff"/><stop offset="0.55" stop-color="#58b4f2"/><stop offset="1" stop-color="#2a8ee0"/></radialGradient></defs>
<path d="M13.5 1.8 C15.5 6.5 21.5 12 21.5 17 C21.5 21.5 18 24.8 13.5 24.8 C9 24.8 5.5 21.5 5.5 17 C5.5 12 11.5 6.5 13.5 1.8Z" fill="url(#dg8)" stroke="#0d3a70" stroke-width="1"/></svg></div>
<div class="t lv" style="left:224.6px;top:413.49px;color:#111">1.0</div>
<div class="c" style="left:243.10px;top:388.74px;width:64.03px;height:35.20px;background:#fdf0d5"></div>
<div class="t v" style="left:234.78px;width:80px;top:395.14px;color:#0606da">0.60</div>
<div class="c" style="left:310.53px;top:388.74px;width:64.03px;height:35.20px;background:#fdf0d5"></div>
<div class="t v" style="left:302.82px;width:80px;top:395.14px;color:#1484ec">0.80</div>
<div class="c" style="left:377.96px;top:388.74px;width:64.03px;height:35.20px;background:#fdf0d5"></div>
<div class="c" style="left:409.68px;top:408.14px;width:7px;height:2.7px;background:#111;border-radius:0.6px;box-shadow:0 0 1.5px 0.8px rgba(255,255,255,0.55)"></div>
<div class="c" style="left:445.39px;top:388.74px;width:64.03px;height:35.20px;background:#fdf0d5"></div>
<div class="c" style="left:477.72px;top:408.14px;width:7px;height:2.7px;background:#111;border-radius:0.6px;box-shadow:0 0 1.5px 0.8px rgba(255,255,255,0.55)"></div>
<div class="c" style="left:512.82px;top:388.74px;width:64.03px;height:35.20px;background:#fdf0d5"></div>
<div class="c" style="left:545.76px;top:408.14px;width:7px;height:2.7px;background:#111;border-radius:0.6px;box-shadow:0 0 1.5px 0.8px rgba(255,255,255,0.55)"></div>
<div class="c" style="left:580.25px;top:388.74px;width:64.03px;height:35.20px;background:#fdf0d5"></div>
<div class="t v" style="left:574.98px;width:80px;top:395.14px;color:#f8820a">1.10</div>
<div class="c" style="left:647.68px;top:388.74px;width:64.03px;height:35.20px;background:#fdf0d5"></div>
<div class="t v" style="left:643.02px;width:80px;top:395.14px;color:#f8820a">1.10</div>
<div class="c" style="left:715.11px;top:388.74px;width:64.03px;height:35.20px;background:#fdf0d5"></div>
<div class="c" style="left:749.88px;top:408.14px;width:7px;height:2.7px;background:#111;border-radius:0.6px;box-shadow:0 0 1.5px 0.8px rgba(255,255,255,0.55)"></div>
<div class="c" style="left:782.54px;top:388.74px;width:62.76px;height:35.20px;background:#fdf0d5"></div>
<div class="c" style="left:817.92px;top:408.14px;width:7px;height:2.7px;background:#111;border-radius:0.6px;box-shadow:0 0 1.5px 0.8px rgba(255,255,255,0.55)"></div>
<div class="c" style="left:2.00px;top:427.65px;width:237.70px;height:35.20px;background:#f9e7d4"></div>
<div class="t nm" style="left:11px;top:434.55px">デザートゴースト</div>
<div class="ic" style="left:204px;top:427.15px"><svg width="26" height="26" viewBox="0 0 26 26"><defs><radialGradient id="tg29" cx="0.5" cy="0.4" r="0.6"><stop offset="0" stop-color="#fbb848"/><stop offset="1" stop-color="#ee9420"/></radialGradient></defs><g fill="url(#tg29)" stroke="#4a2a08" stroke-width="1">
<ellipse cx="4.6" cy="12.5" rx="2.9" ry="3.9" transform="rotate(-15 4.6 12.5)"/><ellipse cx="10" cy="6.2" rx="3.1" ry="4.4"/><ellipse cx="16.6" cy="7.2" rx="2.9" ry="4.1"/><ellipse cx="21.6" cy="13" rx="2.7" ry="3.6" transform="rotate(20 21.6 13)"/>
<path d="M6 20.5 C6 15 10 13 13.5 13 C17.5 13 20.5 15.5 20.5 20.5 C20.5 23.2 17.5 23.8 13.5 23.8 C9.5 23.8 6 23.2 6 20.5Z" fill="#d87a12"/></g><circle cx="10.3" cy="16.5" r="1.3" fill="#fff" opacity="0.85"/></svg></div>
<div class="t lv" style="left:224.6px;top:452.40px;color:#d0101c">1.2</div>
<div class="c" style="left:243.10px;top:427.65px;width:64.03px;height:35.20px;background:#f9e7d4"></div>
<div class="t v" style="left:234.78px;width:80px;top:434.15px;color:#0606da">0.65</div>
<div class="c" style="left:310.53px;top:427.65px;width:64.03px;height:35.20px;background:#f9e7d4"></div>
<div class="t v" style="left:302.82px;width:80px;top:434.15px;color:#1484ec">0.75</div>
<div class="c" style="left:377.96px;top:427.65px;width:64.03px;height:35.20px;background:#f9e7d4"></div>
<div class="c" style="left:409.68px;top:447.15px;width:7px;height:2.7px;background:#111;border-radius:0.6px;box-shadow:0 0 1.5px 0.8px rgba(255,255,255,0.55)"></div>
<div class="c" style="left:445.39px;top:427.65px;width:64.03px;height:35.20px;background:#f9e7d4"></div>
<div class="t v" style="left:438.90px;width:80px;top:434.15px;color:#f8820a">1.10</div>
<div class="c" style="left:512.82px;top:427.65px;width:64.03px;height:35.20px;background:#f9e7d4"></div>
<div class="c" style="left:545.76px;top:447.15px;width:7px;height:2.7px;background:#111;border-radius:0.6px;box-shadow:0 0 1.5px 0.8px rgba(255,255,255,0.55)"></div>
<div class="c" style="left:580.25px;top:427.65px;width:64.03px;height:35.20px;background:#f9e7d4"></div>
<div class="c" style="left:613.80px;top:447.15px;width:7px;height:2.7px;background:#111;border-radius:0.6px;box-shadow:0 0 1.5px 0.8px rgba(255,255,255,0.55)"></div>
<div class="c" style="left:647.68px;top:427.65px;width:64.03px;height:35.20px;background:#f9e7d4"></div>
<div class="c" style="left:681.84px;top:447.15px;width:7px;height:2.7px;background:#111;border-radius:0.6px;box-shadow:0 0 1.5px 0.8px rgba(255,255,255,0.55)"></div>
<div class="c" style="left:715.11px;top:427.65px;width:64.03px;height:35.20px;background:#f9e7d4"></div>
<div class="c" style="left:749.88px;top:447.15px;width:7px;height:2.7px;background:#111;border-radius:0.6px;box-shadow:0 0 1.5px 0.8px rgba(255,255,255,0.55)"></div>
<div class="c" style="left:782.54px;top:427.65px;width:62.76px;height:35.20px;background:#f9e7d4"></div>
<div class="c" style="left:817.92px;top:447.15px;width:7px;height:2.7px;background:#111;border-radius:0.6px;box-shadow:0 0 1.5px 0.8px rgba(255,255,255,0.55)"></div>
<div class="c" style="left:2.00px;top:466.56px;width:237.70px;height:35.20px;background:#efd3d3"></div>
<div class="t nm" style="left:11px;top:473.56px">アームライオン</div>
<div class="ic" style="left:204px;top:466.06px"><svg width="26" height="26" viewBox="0 0 26 26"><defs><radialGradient id="tg210" cx="0.5" cy="0.4" r="0.6"><stop offset="0" stop-color="#fbb848"/><stop offset="1" stop-color="#ee9420"/></radialGradient></defs><g fill="url(#tg210)" stroke="#4a2a08" stroke-width="1">
<ellipse cx="4.6" cy="12.5" rx="2.9" ry="3.9" transform="rotate(-15 4.6 12.5)"/><ellipse cx="10" cy="6.2" rx="3.1" ry="4.4"/><ellipse cx="16.6" cy="7.2" rx="2.9" ry="4.1"/><ellipse cx="21.6" cy="13" rx="2.7" ry="3.6" transform="rotate(20 21.6 13)"/>
<path d="M6 20.5 C6 15 10 13 13.5 13 C17.5 13 20.5 15.5 20.5 20.5 C20.5 23.2 17.5 23.8 13.5 23.8 C9.5 23.8 6 23.2 6 20.5Z" fill="#d87a12"/></g><circle cx="10.3" cy="16.5" r="1.3" fill="#fff" opacity="0.85"/></svg></div>
<div class="t lv" style="left:224.6px;top:491.31px;color:#d0101c">1.2</div>
<div class="c" style="left:243.10px;top:466.56px;width:64.03px;height:35.20px;background:#efd3d3"></div>
<div class="c" style="left:273.60px;top:486.16px;width:7px;height:2.7px;background:#111;border-radius:0.6px;box-shadow:0 0 1.5px 0.8px rgba(255,255,255,0.55)"></div>
<div class="c" style="left:310.53px;top:466.56px;width:64.03px;height:35.20px;background:#efd3d3"></div>
<div class="c" style="left:341.64px;top:486.16px;width:7px;height:2.7px;background:#111;border-radius:0.6px;box-shadow:0 0 1.5px 0.8px rgba(255,255,255,0.55)"></div>
<div class="c" style="left:377.96px;top:466.56px;width:64.03px;height:35.20px;background:#efd3d3"></div>
<div class="c" style="left:409.68px;top:486.16px;width:7px;height:2.7px;background:#111;border-radius:0.6px;box-shadow:0 0 1.5px 0.8px rgba(255,255,255,0.55)"></div>
<div class="c" style="left:445.39px;top:466.56px;width:64.03px;height:35.20px;background:#efd3d3"></div>
<div class="c" style="left:477.72px;top:486.16px;width:7px;height:2.7px;background:#111;border-radius:0.6px;box-shadow:0 0 1.5px 0.8px rgba(255,255,255,0.55)"></div>
<div class="c" style="left:512.82px;top:466.56px;width:64.03px;height:35.20px;background:#efd3d3"></div>
<div class="c" style="left:545.76px;top:486.16px;width:7px;height:2.7px;background:#111;border-radius:0.6px;box-shadow:0 0 1.5px 0.8px rgba(255,255,255,0.55)"></div>
<div class="c" style="left:580.25px;top:466.56px;width:64.03px;height:35.20px;background:#efd3d3"></div>
<div class="c" style="left:613.80px;top:486.16px;width:7px;height:2.7px;background:#111;border-radius:0.6px;box-shadow:0 0 1.5px 0.8px rgba(255,255,255,0.55)"></div>
<div class="c" style="left:647.68px;top:466.56px;width:64.03px;height:35.20px;background:#efd3d3"></div>
<div class="t v" style="left:643.02px;width:80px;top:473.16px;color:#f8820a">1.10</div>
<div class="c" style="left:715.11px;top:466.56px;width:64.03px;height:35.20px;background:#efd3d3"></div>
<div class="t v" style="left:711.06px;width:80px;top:473.16px;color:#f8820a">1.10</div>
<div class="c" style="left:782.54px;top:466.56px;width:62.76px;height:35.20px;background:#efd3d3"></div>
<div class="c" style="left:817.92px;top:486.16px;width:7px;height:2.7px;background:#111;border-radius:0.6px;box-shadow:0 0 1.5px 0.8px rgba(255,255,255,0.55)"></div>
<div class="c" style="left:2.00px;top:505.47px;width:237.70px;height:32.63px;background:#cccccc"></div>
<div class="t nm" style="left:11px;top:512.57px">メタルスライム</div>
<div class="ic" style="left:204px;top:504.97px"><svg width="26" height="26" viewBox="0 0 26 26"><defs><linearGradient id="sg11" x1="0" y1="0" x2="0" y2="1"><stop offset="0" stop-color="#62bcf2"/><stop offset="1" stop-color="#1e8ce0"/></linearGradient></defs>
<path d="M13 1.8 C14.6 1.8 14.6 4.5 15.2 6.5 C20 8.5 24.2 11.5 24.2 16.5 C24.2 21.5 19 24.3 13 24.3 C7 24.3 1.8 21.5 1.8 16.5 C1.8 11.5 6 8.5 10.8 6.5 C11.4 4.5 11.4 1.8 13 1.8Z" fill="url(#sg11)" stroke="#0c2a40" stroke-width="1.1"/></svg></div>
<div class="t lv" style="left:224.6px;top:530.22px;color:#111">1.0</div>
<div class="c" style="left:243.10px;top:505.47px;width:64.03px;height:32.63px;background:#cccccc"></div>
<div class="t mk" style="left:234.20px;width:80px;top:513.87px">無効</div>
<div class="c" style="left:310.53px;top:505.47px;width:64.03px;height:32.63px;background:#cccccc"></div>
<div class="t mk" style="left:302.24px;width:80px;top:513.87px">無効</div>
<div class="c" style="left:377.96px;top:505.47px;width:64.03px;height:32.63px;background:#cccccc"></div>
<div class="t mk" style="left:370.28px;width:80px;top:513.87px">無効</div>
<div class="c" style="left:445.39px;top:505.47px;width:64.03px;height:32.63px;background:#cccccc"></div>
<div class="t mk" style="left:438.32px;width:80px;top:513.87px">無効</div>
<div class="c" style="left:512.82px;top:505.47px;width:64.03px;height:32.63px;background:#cccccc"></div>
<div class="t mk" style="left:506.36px;width:80px;top:513.87px">無効</div>
<div class="c" style="left:580.25px;top:505.47px;width:64.03px;height:32.63px;background:#cccccc"></div>
<div class="t mk" style="left:574.40px;width:80px;top:513.87px">無効</div>
<div class="c" style="left:647.68px;top:505.47px;width:64.03px;height:32.63px;background:#cccccc"></div>
<div class="t mk" style="left:642.44px;width:80px;top:513.87px">無効</div>
<div class="c" style="left:715.11px;top:505.47px;width:64.03px;height:32.63px;background:#cccccc"></div>
<div class="t mk" style="left:710.48px;width:80px;top:513.87px">無効</div>
<div class="c" style="left:782.54px;top:505.47px;width:62.76px;height:32.63px;background:#cccccc"></div>
<div class="t mk" style="left:778.52px;width:80px;top:513.87px">無効</div>
<div class="c" style="left:510.2px;top:35.1px;width:68.5px;height:508.5px;box-sizing:border-box;border:5px solid #f20000"></div>
<div class="t" style="left:589px;top:558px;font-size:18px;color:#111">generated by CranberryBot</div>
<div class="ic" style="left:810px;top:548.5px"><svg width="28" height="28" viewBox="0 0 28 28"><defs><radialGradient id="crg" cx="0.4" cy="0.35" r="0.7"><stop offset="0" stop-color="#dc2a62"/><stop offset="1" stop-color="#b8144a"/></radialGradient></defs><circle cx="14.2" cy="14.6" r="11.8" fill="url(#crg)" stroke="#5a0c22" stroke-width="0.8"/>
<path d="M2.5 10 C2.5 6 5 4.5 8 4.8 C7.5 7.5 5.5 9.5 2.5 10Z" fill="#2e6a38"/><ellipse cx="14.2" cy="5" rx="3.2" ry="1.8" fill="#f6a0b8"/><ellipse cx="14.2" cy="4.6" rx="2" ry="1" fill="#d02058"/>
<ellipse cx="7.6" cy="9.6" rx="1.5" ry="2.2" fill="#fff" transform="rotate(40 7.6 9.6)"/><ellipse cx="23" cy="15" rx="0.8" ry="2.5" fill="#fff" opacity="0.8"/>
<ellipse cx="10.8" cy="14.4" rx="2" ry="1.6" fill="#fff"/><ellipse cx="16.8" cy="14.4" rx="2" ry="1.6" fill="#fff"/><circle cx="10.8" cy="14.4" r="0.8" fill="#222"/><circle cx="16.8" cy="14.4" r="0.8" fill="#222"/>
<ellipse cx="13.8" cy="19.2" rx="5" ry="1.8" fill="#f49090"/></svg></div>
</body></html>
